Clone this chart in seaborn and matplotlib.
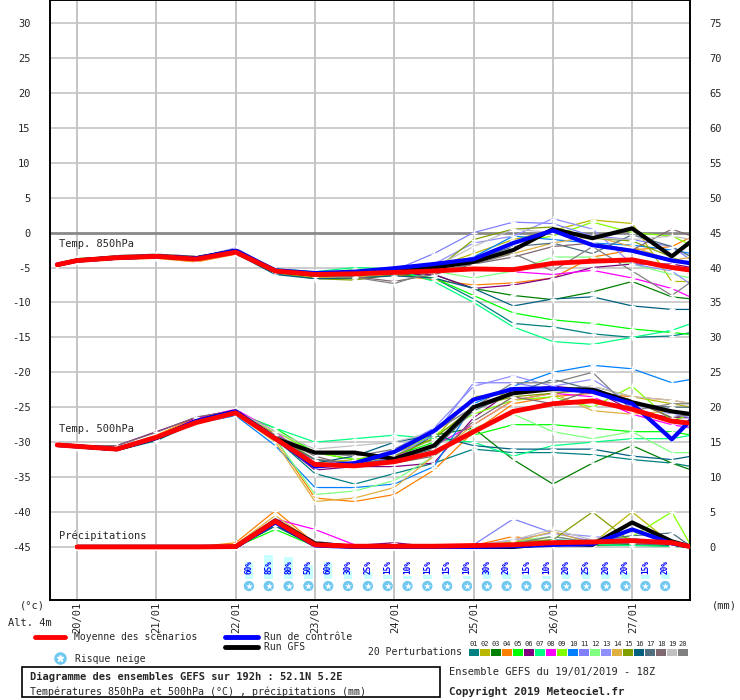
import numpy as np
import pandas as pd
import matplotlib
matplotlib.use("Agg")
import matplotlib.pyplot as plt
import seaborn as sns
from matplotlib.lines import Line2D
from matplotlib.patches import Rectangle

sns.set_theme(style="white")
plt.rcParams['font.family'] = ['DejaVu Sans Mono', 'DejaVu Sans']

# hours relative to 20/01 00Z
hours = [-6, 0, 12, 24, 36, 48, 60, 72, 84, 96, 108, 120, 132, 144, 156, 168, 180, 186]
day_labels = ["20/01", "21/01", "22/01", "23/01", "24/01", "25/01", "26/01", "27/01"]

member_colors = ["#008080", "#b8b800", "#008000", "#ff8000", "#00ff00", "#800080", "#00ff80",
                 "#ff00ff", "#80ff00", "#0080ff", "#8080ff", "#80ff80", "#9090ff", "#e0b040",
                 "#80a000", "#006080", "#507080", "#806870", "#c0c0c0", "#808080"]

t850_mean = [-4.6, -4.0, -3.6, -3.4, -3.8, -2.8, -5.5, -6.0, -5.9, -5.7, -5.5, -5.2, -5.3, -4.4, -4.1, -3.9, -5.0, -5.4]
t850_ctrl = [-4.6, -4.0, -3.6, -3.4, -3.7, -2.6, -5.4, -5.8, -5.6, -5.1, -4.5, -3.8, -1.5, 0.3, -1.8, -2.6, -4.0, -4.4]
t850_gfs = [-4.6, -4.0, -3.6, -3.4, -3.7, -2.6, -5.5, -6.0, -5.8, -5.6, -5.0, -4.2, -2.5, 0.5, -0.8, 0.6, -3.4, -1.2]
t850_members = [
    [-4.6, -4.1, -3.7, -3.5, -3.9, -2.9, -5.9, -6.5, -6.4, -6.0, -6.5, -9.5, -13.0, -13.5, -14.5, -15.0, -14.8, -14.3],
    [-4.5, -3.9, -3.5, -3.3, -3.6, -2.7, -5.6, -6.4, -6.6, -5.8, -5.0, -3.0, -1.0, 0.3, 1.8, 1.3, -7.0, -7.0],
    [-4.6, -4.0, -3.6, -3.5, -3.8, -2.9, -5.7, -6.2, -6.3, -6.1, -6.0, -8.0, -9.0, -9.6, -8.5, -7.0, -9.2, -9.5],
    [-4.7, -4.1, -3.8, -3.6, -4.2, -3.1, -5.6, -6.4, -6.3, -6.0, -6.8, -7.5, -7.2, -6.5, -3.5, -2.5, -2.0, -0.6],
    [-4.5, -3.7, -3.5, -3.3, -3.5, -2.4, -5.4, -6.3, -6.2, -5.8, -6.5, -9.0, -11.5, -12.5, -13.0, -13.8, -14.3, -14.6],
    [-4.6, -4.0, -3.6, -3.4, -3.7, -2.8, -5.5, -6.0, -5.9, -5.9, -6.0, -8.0, -7.5, -6.5, -5.0, -4.5, -4.5, -5.0],
    [-4.5, -3.8, -3.4, -3.3, -3.6, -2.5, -5.2, -5.6, -5.0, -5.2, -7.0, -10.0, -13.5, -15.6, -16.0, -15.0, -14.0, -13.0],
    [-4.6, -4.0, -3.6, -3.4, -3.8, -2.7, -5.3, -5.8, -5.5, -5.3, -5.5, -5.2, -5.6, -6.0, -5.4, -6.5, -8.0, -9.3],
    [-4.6, -4.0, -3.6, -3.4, -3.7, -2.6, -5.5, -6.1, -6.0, -5.7, -5.0, -3.8, -1.4, -0.5, 1.5, 0.0, -0.5, -1.8],
    [-4.6, -4.0, -3.6, -3.5, -3.8, -2.7, -5.6, -6.2, -6.0, -5.6, -5.0, -3.5, -0.5, -1.0, -1.5, -1.8, -2.5, -3.0],
    [-4.6, -4.0, -3.6, -3.4, -3.6, -2.2, -5.3, -6.0, -5.8, -5.4, -3.0, 0.0, 1.5, 1.3, -0.5, -1.0, -2.0, -4.0],
    [-4.6, -4.0, -3.6, -3.4, -3.7, -2.6, -5.4, -6.0, -5.2, -5.5, -5.5, -6.5, -5.5, -3.5, -3.5, -4.5, -6.0, -6.5],
    [-4.6, -4.0, -3.6, -3.4, -3.7, -2.5, -5.5, -6.2, -6.0, -5.6, -4.5, -1.5, -0.5, 2.0, 0.5, -4.5, -5.5, -7.5],
    [-4.7, -4.2, -3.8, -3.7, -4.2, -3.0, -5.8, -6.5, -6.4, -6.0, -5.2, -4.0, -3.0, -1.5, -0.5, -2.0, -4.0, -3.5],
    [-4.6, -4.0, -3.6, -3.5, -3.7, -2.8, -5.7, -6.6, -6.8, -6.0, -5.5, -1.0, 0.5, 0.8, -0.8, -1.2, -3.5, -4.8],
    [-4.6, -4.1, -3.7, -3.6, -3.9, -3.0, -6.0, -6.6, -6.5, -6.2, -6.5, -8.0, -10.5, -9.5, -9.2, -10.5, -11.0, -11.0],
    [-4.6, -4.0, -3.6, -3.4, -3.8, -2.8, -5.6, -6.2, -6.0, -5.8, -5.0, -4.0, -2.0, -1.5, -3.0, -0.3, -2.0, -3.5],
    [-4.5, -3.8, -3.3, -3.1, -3.4, -2.6, -5.5, -6.2, -6.3, -7.0, -6.0, -4.5, -3.5, -2.0, -1.5, -2.5, 0.5, -0.5],
    [-4.6, -3.9, -3.5, -3.4, -3.7, -2.7, -5.5, -6.0, -5.8, -5.5, -5.0, -2.0, 0.5, 0.0, -0.8, -1.0, -0.5, -1.0],
    [-4.5, -3.9, -3.3, -3.1, -3.4, -2.7, -5.5, -6.2, -6.4, -7.3, -5.5, -4.5, -3.0, -5.5, -2.0, -5.5, -9.0, -7.0],
]

t500_mean = [-30.4, -30.6, -31.0, -29.3, -27.2, -25.8, -29.5, -33.2, -33.4, -32.8, -31.5, -28.5, -25.6, -24.5, -24.1, -25.3, -27.0, -27.3]
t500_ctrl = [-30.4, -30.6, -31.0, -29.4, -27.0, -25.6, -29.5, -33.5, -33.0, -31.4, -28.4, -23.9, -22.4, -22.3, -22.8, -24.5, -29.6, -26.7]
t500_gfs = [-30.4, -30.6, -31.0, -29.4, -27.0, -25.6, -29.5, -31.5, -31.5, -32.4, -30.5, -25.0, -23.0, -22.4, -22.5, -24.3, -25.6, -26.0]
t500_members = [
    [-30.4, -30.7, -31.2, -29.8, -27.2, -26.0, -29.5, -34.5, -36.0, -34.5, -33.0, -31.0, -31.5, -31.5, -31.8, -32.5, -33.0, -33.5],
    [-30.3, -30.6, -31.0, -29.5, -26.8, -25.5, -28.8, -33.0, -32.5, -31.5, -29.5, -23.5, -23.0, -22.5, -22.0, -23.5, -24.5, -25.0],
    [-30.5, -30.8, -31.1, -29.6, -27.0, -25.7, -29.0, -33.5, -33.0, -32.5, -29.0, -28.0, -32.5, -36.0, -33.0, -30.5, -33.0, -34.0],
    [-30.4, -30.6, -30.9, -29.0, -26.5, -25.8, -29.5, -38.0, -38.5, -37.5, -34.0, -28.5, -24.5, -23.5, -23.0, -23.5, -24.0, -24.5],
    [-30.4, -30.7, -31.0, -29.4, -26.8, -25.7, -28.0, -31.5, -32.5, -32.0, -30.0, -29.0, -27.5, -27.5, -28.0, -28.5, -28.5, -29.0],
    [-30.3, -30.5, -30.5, -28.5, -26.5, -25.4, -29.5, -34.0, -33.5, -33.5, -33.0, -26.5, -22.5, -22.0, -22.5, -25.5, -26.5, -26.5],
    [-30.4, -30.7, -31.0, -29.5, -27.0, -25.8, -28.0, -30.0, -29.5, -29.0, -29.5, -30.0, -32.0, -30.5, -30.0, -29.5, -29.5, -29.0],
    [-30.4, -30.6, -31.0, -29.4, -26.6, -25.3, -28.5, -33.0, -33.5, -32.0, -30.5, -27.5, -24.0, -23.0, -23.5, -26.0, -27.5, -28.0],
    [-30.4, -30.7, -31.0, -29.5, -26.8, -25.6, -28.5, -31.5, -32.5, -31.5, -29.0, -26.0, -24.0, -23.5, -25.0, -22.0, -27.0, -26.0],
    [-30.5, -30.8, -31.2, -29.6, -27.3, -26.2, -30.5, -36.5, -36.5, -36.0, -33.5, -24.5, -22.0, -20.0, -19.0, -19.5, -21.5, -21.0],
    [-30.4, -30.6, -31.0, -29.5, -26.9, -25.6, -29.0, -32.5, -33.5, -32.0, -29.0, -21.5, -21.5, -22.5, -22.0, -25.0, -27.0, -28.0],
    [-30.4, -30.7, -31.1, -29.5, -27.0, -25.8, -29.5, -37.5, -37.0, -35.5, -32.0, -28.0, -26.0, -28.5, -29.5, -28.5, -31.5, -31.5],
    [-30.4, -30.6, -31.0, -29.4, -26.8, -25.6, -29.0, -32.5, -33.0, -31.0, -28.0, -22.0, -20.5, -22.0, -21.0, -24.5, -26.0, -26.5],
    [-30.4, -30.7, -31.1, -29.6, -27.2, -26.0, -30.0, -38.5, -38.0, -36.5, -32.0, -27.5, -24.0, -23.0, -25.5, -26.0, -25.5, -26.0],
    [-30.4, -30.6, -31.0, -29.5, -26.9, -25.6, -29.0, -32.5, -33.0, -32.0, -29.5, -25.0, -23.5, -23.0, -22.5, -24.0, -26.5, -27.5],
    [-30.4, -30.7, -31.1, -29.6, -27.0, -25.8, -29.5, -33.0, -32.0, -30.0, -29.0, -30.5, -31.0, -31.0, -31.0, -32.0, -32.5, -32.0],
    [-30.4, -30.6, -31.0, -29.5, -26.9, -25.7, -29.5, -32.5, -33.0, -32.5, -31.0, -25.5, -23.0, -21.0, -22.5, -24.5, -25.0, -25.0],
    [-30.3, -30.5, -30.5, -28.6, -26.4, -25.5, -29.0, -32.0, -33.5, -33.0, -32.0, -27.0, -23.5, -24.5, -22.5, -24.0, -26.5, -26.0],
    [-30.4, -30.6, -31.0, -29.5, -26.8, -25.5, -28.5, -31.0, -30.5, -30.0, -28.5, -25.0, -23.0, -22.5, -22.0, -23.5, -24.0, -24.5],
    [-30.4, -30.7, -31.0, -29.5, -27.0, -25.7, -29.0, -31.5, -32.0, -31.0, -28.5, -25.0, -21.5, -21.5, -20.0, -25.5, -24.5, -24.5],
]

nan = np.nan
precip_mean = [nan, 0, 0, 0, 0, 0.05, 3.7, 0.3, 0.1, 0.1, 0.1, 0.2, 0.3, 0.6, 0.7, 0.9, 0.6, 0]
precip_ctrl = [nan, 0, 0, 0, 0, 0, 3.5, 0.2, 0, 0, 0, 0, 0.1, 0.3, 0.4, 2.5, 0.5, 0]
precip_gfs = [nan, 0, 0, 0, 0, 0, 3.8, 0.5, 0, 0, 0, 0, 0, 0.5, 0.3, 3.5, 0.8, 0]
precip_members = [
    [nan, 0, 0, 0, 0, 0, 3.5, 0.2, 0, 0, 0, 0, 0.3, 0.5, 0.2, 0.3, 0.2, 0],
    [nan, 0, 0, 0, 0, 0.3, 3.8, 0.4, 0, 0, 0, 0.2, 0.8, 1.0, 0.5, 5.0, 0.5, 0],
    [nan, 0, 0, 0, 0, 0, 3.0, 0.1, 0, 0, 0, 0.3, 0.5, 0.3, 0.2, 0.3, 0.1, 0],
    [nan, 0, 0, 0, 0, 0.6, 5.2, 0.5, 0.2, 0, 0, 0.2, 1.5, 0.6, 0.8, 1.0, 0.5, 0],
    [nan, 0, 0, 0, 0, 0, 2.5, 0.1, 0, 0, 0, 0, 0.2, 0.3, 0.5, 0.5, 0.2, 0],
    [nan, 0, 0, 0, 0, 0, 3.3, 0.6, 0.2, 0.6, 0, 0, 0.3, 0.5, 0.6, 0.8, 0.5, 0],
    [nan, 0, 0, 0, 0, 0, 3.2, 0.3, 0, 0, 0, 0, 0, 0.2, 0.3, 0.2, 0.1, 0],
    [nan, 0, 0, 0, 0, 0, 4.0, 2.5, 0.3, 0, 0, 0, 0.5, 0.8, 0.8, 0.5, 0.3, 0],
    [nan, 0, 0, 0, 0, 0, 3.6, 0.3, 0, 0, 0, 0.1, 0.6, 1.0, 0.8, 1.5, 5.0, 0],
    [nan, 0, 0, 0, 0, 0, 3.4, 0.4, 0, 0, 0, 0, 0.5, 1.0, 0.8, 1.2, 0.5, 0],
    [nan, 0, 0, 0, 0, 0, 3.9, 0.5, 0.1, 0, 0, 0.3, 4.0, 2.0, 0.8, 1.0, 0.5, 0],
    [nan, 0, 0, 0, 0, 0, 3.5, 0.3, 0, 0, 0, 0.2, 0.8, 1.5, 0.6, 0.8, 0.3, 0],
    [nan, 0, 0, 0, 0, 0, 3.8, 0.8, 0.1, 0, 0, 0.2, 1.0, 2.0, 1.5, 1.0, 0.5, 0],
    [nan, 0, 0, 0, 0, 0.3, 4.5, 0.5, 0, 0, 0, 0.2, 0.7, 2.2, 0.5, 0.8, 0.4, 0],
    [nan, 0, 0, 0, 0, 0, 3.6, 0.2, 0, 0, 0, 0, 0.6, 1.0, 5.0, 0.6, 0.3, 0],
    [nan, 0, 0, 0, 0, 0, 3.0, 0.2, 0, 0, 0, 0, 0.2, 0.3, 0.5, 0.6, 0.2, 0],
    [nan, 0, 0, 0, 0, 0, 3.6, 0.6, 0, 0, 0, 0.1, 0.4, 0.8, 1.0, 1.6, 2.0, 0],
    [nan, 0, 0, 0, 0, 0, 3.4, 0.4, 0, 0, 0, 0, 0.3, 0.5, 0.8, 0.5, 0.4, 0],
    [nan, 0, 0, 0, 0, 0, 3.7, 0.8, 0.1, 0, 0, 0.2, 1.0, 2.5, 1.0, 0.8, 0.5, 0],
    [nan, 0, 0, 0, 0, 0, 3.9, 0.6, 0.2, 0, 0, 0.1, 0.5, 1.5, 0.6, 0.6, 0.3, 0],
]

snow_hours = [52, 58, 64, 70, 76, 82, 88, 94, 100, 106, 112, 118, 124, 130, 136, 142, 148, 154, 160, 166, 172, 178]
snow_pct = [60, 85, 80, 50, 60, 30, 25, 15, 10, 15, 15, 10, 30, 20, 15, 10, 20, 25, 20, 20, 15, 20]

W, H = 740, 700
fig = plt.figure(figsize=(7.4, 7.0), dpi=100)
fig.patch.set_facecolor("white")
ax = fig.add_axes([50 / W, 1 - 600 / H, 640 / W, 600 / H])
ylo, yhi = -52.6, 33.3
ax.set_xlim(-8.2, 185.5)
ax.set_ylim(ylo, yhi)
ax.set_facecolor("white")

for d in range(8):
    ax.axvline(d * 24, color="#bbbbbb", lw=1.2, zorder=0)
for v in range(-45, 31, 5):
    if v == 0:
        ax.axhline(v, color="#888888", lw=2.0, zorder=0)
    else:
        ax.axhline(v, color="#c4c4c4", lw=1.2, zorder=0)

ax2 = ax.twinx()
ax2.set_ylim(ylo + 45, yhi + 45)

rows = []
for i, c in enumerate(member_colors):
    for h, a, b, p in zip(hours, t850_members[i], t500_members[i], precip_members[i]):
        rows.append(dict(h=h, m=f"{i+1:02d}", t850=a, t500=b, pr=p))
df = pd.DataFrame(rows)
pal = {f"{i+1:02d}": c for i, c in enumerate(member_colors)}
for col, axx in (("t850", ax), ("t500", ax), ("pr", ax2)):
    sns.lineplot(data=df, x="h", y=col, hue="m", palette=pal, ax=axx, lw=0.9,
                 marker="+", markersize=5, markeredgewidth=1.0, legend=False, estimator=None, zorder=2)

for axx, ser in ((ax, t850_ctrl), (ax, t500_ctrl), (ax2, precip_ctrl)):
    sns.lineplot(x=hours, y=ser, ax=axx, color="#0000ff", lw=3, zorder=4)
for axx, ser in ((ax, t850_gfs), (ax, t500_gfs), (ax2, precip_gfs)):
    sns.lineplot(x=hours, y=ser, ax=axx, color="black", lw=3, zorder=3)
for axx, ser in ((ax, t850_mean), (ax, t500_mean), (ax2, precip_mean)):
    sns.lineplot(x=hours, y=ser, ax=axx, color="#ff0000", lw=3.5, zorder=5)

# snow risk
for h, p in zip(snow_hours, snow_pct):
    ax.add_patch(Rectangle((h - 1.3, -49.6), 2.6, p * 0.04, color="#c8ffff", zorder=1, lw=0))
    ax.text(h, -47.9, f"{p}%", rotation=90, ha="center", va="center", fontsize=5.5,
            color="#0000ff", fontweight="bold", zorder=6)
ax.scatter(snow_hours, [-50.6] * len(snow_hours), s=55, color="#70c8f0", zorder=6, edgecolor="none")
ax.scatter(snow_hours, [-50.6] * len(snow_hours), s=28, marker="*", color="white", zorder=7, linewidths=0)

ax.text(-5.5, -1.7, "Temp. 850hPa", fontsize=7.5, va="center", zorder=8)
ax.text(-5.5, -28.1, "Temp. 500hPa", fontsize=7.5, va="center", zorder=8)
ax.text(-5.5, -43.4, "Précipitations", fontsize=7.5, va="center", zorder=8)

ax.set_yticks(range(-45, 31, 5))
ax.set_yticklabels([str(v) for v in range(-45, 31, 5)], fontsize=7.5)
ax2.set_yticks(range(0, 76, 5))
ax2.set_yticklabels([str(v) for v in range(0, 76, 5)], fontsize=7.5)
ax.set_xticks([])
ax.set_xlabel(""); ax.set_ylabel(""); ax2.set_ylabel("")
ax.tick_params(axis="y", length=0, pad=14)
ax2.tick_params(axis="y", length=0, pad=14)
for s in list(ax.spines.values()) + list(ax2.spines.values()):
    s.set_color("black"); s.set_linewidth(1.2)

def fx(x): return x / W
def fy(y): return 1 - y / H

for d, lab in enumerate(day_labels):
    x = 77 + d * 79.5
    fig.text(fx(x), fy(602), lab, rotation=90, ha="center", va="top", fontsize=7.5)
fig.text(fx(20), fy(606), "(°c)", ha="left", va="center", fontsize=7.5)
fig.text(fx(712), fy(606), "(mm)", ha="left", va="center", fontsize=7.5)
fig.text(fx(8), fy(623), "Alt. 4m", ha="left", va="center", fontsize=7.5)

fig.add_artist(Line2D([fx(35), fx(65)], [fy(637), fy(637)], color="#ff0000", lw=3.5))
fig.text(fx(74), fy(637), "Moyenne des scénarios", va="center", fontsize=7)
fig.add_artist(Line2D([fx(225), fx(258)], [fy(637), fy(637)], color="#0000ff", lw=3.5))
fig.text(fx(264), fy(637), "Run de contrôle", va="center", fontsize=7)
fig.add_artist(Line2D([fx(225), fx(258)], [fy(647), fy(647)], color="black", lw=3.5))
fig.text(fx(264), fy(647), "Run GFS", va="center", fontsize=7)
fig.add_artist(Line2D([fx(60)], [fy(658)], marker="o", markersize=8, color="#70c8f0", lw=0))
fig.add_artist(Line2D([fx(60)], [fy(658)], marker="*", markersize=5, color="white", lw=0))
fig.text(fx(75), fy(659), "Risque neige", va="center", fontsize=7)
fig.text(fx(368), fy(652), "20 Perturbations", va="center", fontsize=7)
for i, c in enumerate(member_colors):
    x = 469 + i * 11
    fig.text(fx(x + 5), fy(644), f"{i+1:02d}", ha="center", va="center", fontsize=5)
    fig.add_artist(Rectangle((fx(x), fy(656)), 10 / W, 7 / H, color=c, lw=0))

fig.add_artist(Rectangle((fx(22), fy(697)), 418 / W, 30 / H, fill=False, edgecolor="black", lw=1.2))
fig.text(fx(30), fy(677), "Diagramme des ensembles GEFS sur 192h : 52.1N 5.2E", va="center",
         fontsize=7.5, fontweight="bold")
fig.text(fx(30), fy(692), "Températures 850hPa et 500hPa (°C) , précipitations (mm)", va="center", fontsize=7.2)
fig.text(fx(449), fy(672), "Ensemble GEFS du 19/01/2019 - 18Z", va="center", fontsize=7.5)
fig.text(fx(449), fy(692), "Copyright 2019 Meteociel.fr", va="center", fontsize=7.8, fontweight="bold")

fig.savefig("out.png", dpi=100, facecolor="white")
